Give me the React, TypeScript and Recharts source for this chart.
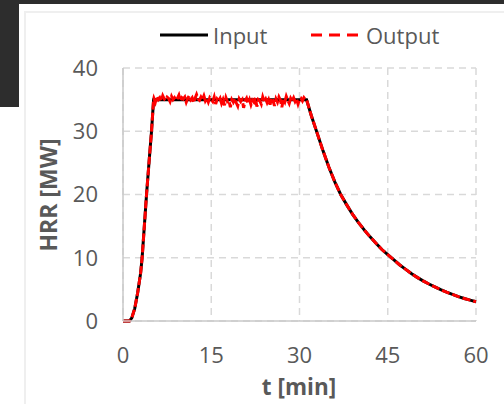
import React from 'react';
import { LineChart, Line, XAxis, YAxis, CartesianGrid } from 'recharts';

// Growth phase (shared by both series)
const riseT = [0, 1.1, 1.5, 2.0, 2.5, 3.0, 3.25, 3.5, 4.0, 4.5, 4.85, 5.2];
const riseHRR = [0, 0, 0.5, 2.0, 4.5, 7.6, 10, 13.3, 20, 26, 30, 35];

// Decay phase (shared by both series)
const decayT = [31.2, 32, 33, 34, 35, 36, 37, 38, 39, 40, 41, 42, 43, 44, 45, 46, 47, 48, 49, 50, 51, 52, 53, 54, 55, 56, 57, 58, 59, 60];
const decayHRR = [35, 32.5, 29.7, 26.9, 24.3, 22.0, 20.0, 18.4, 16.9, 15.6, 14.4, 13.3, 12.3, 11.3, 10.5, 9.7, 8.9, 8.2, 7.5, 6.9, 6.35, 5.85, 5.4, 4.95, 4.55, 4.2, 3.85, 3.55, 3.3, 3.05];

// Noisy plateau of the measured output
const plateauT = [
  5.25, 5.5, 5.75, 6, 6.25, 6.5, 6.75, 7, 7.25, 7.5, 7.75, 8, 8.25, 8.5, 8.75, 9,
  9.25, 9.5, 9.75, 10, 10.25, 10.5, 10.75, 11, 11.25, 11.5, 11.75, 12, 12.25, 12.5, 12.75, 13,
  13.25, 13.5, 13.75, 14, 14.25, 14.5, 14.75, 15, 15.25, 15.5, 15.75, 16, 16.25, 16.5, 16.75, 17,
  17.25, 17.5, 17.75, 18, 18.25, 18.5, 18.75, 19, 19.25, 19.5, 19.75, 20, 20.25, 20.5, 20.75, 21,
  21.25, 21.5, 21.75, 22, 22.25, 22.5, 22.75, 23, 23.25, 23.5, 23.75, 24, 24.25, 24.5, 24.75, 25,
  25.25, 25.5, 25.75, 26, 26.25, 26.5, 26.75, 27, 27.25, 27.5, 27.75, 28, 28.25, 28.5, 28.75, 29,
  29.25, 29.5, 29.75, 30, 30.25, 30.5, 30.75, 31,
];
const plateauOut = [
  35.2, 34.6, 35.5, 35.0, 35.3, 34.8, 35.6, 35.1, 34.9, 35.4, 35.2, 34.7, 35.5, 35.0, 35.3, 34.9,
  35.2, 35.7, 34.8, 35.3, 35.1, 35.4, 34.6, 35.2, 35.6, 35.0, 35.3, 34.5, 35.2, 35.8, 35.1, 34.9,
  35.4, 35.0, 35.6, 34.8, 35.2, 34.6, 35.3, 35.0, 34.7, 35.4, 34.3, 35.1, 34.8, 35.2, 34.4, 35.0,
  34.1, 35.3, 34.7, 34.9, 33.8, 35.0, 34.6, 35.2, 34.5, 34.0, 35.1, 34.7, 35.0, 33.7, 34.8, 35.2,
  34.4, 35.0, 34.2, 34.9, 34.6, 35.3, 33.9, 35.0, 34.8, 34.3, 35.4, 34.7, 35.1, 34.5, 35.0, 34.2,
  35.3, 34.8, 34.0, 35.1, 34.6, 35.4, 34.9, 33.8, 35.0, 34.6, 35.5, 34.9, 34.4, 35.2, 34.8, 35.3,
  34.7, 35.1, 34.3, 35.0, 35.2, 34.8, 35.3, 35.0,
];

const xTicks = [0, 15, 30, 45, 60];
const yTicks = [0, 10, 20, 30, 40];

const toPoints = (ts: number[], vs: number[]) => ts.map((t, i) => ({ t, hrr: vs[i] }));

const inputData = [...toPoints(riseT, riseHRR), ...toPoints(decayT, decayHRR)];
const outputData = [
  ...toPoints(riseT, riseHRR),
  ...toPoints(plateauT, plateauOut),
  ...toPoints(decayT, decayHRR),
];

const FONT = '"Open Sans", sans-serif';
const TEXT = '#595959';

const YTitle = () => (
  <text
    x={48}
    y={195}
    transform="rotate(-90, 48, 195)"
    textAnchor="middle"
    dominantBaseline="central"
    fill={TEXT}
    fontSize={23}
    fontWeight="bold"
    fontFamily={FONT}
  >
    HRR [MW]
  </text>
);

const XTitle = () => (
  <text x={299} y={395} textAnchor="middle" fill={TEXT} fontSize={22.5} fontWeight="bold" fontFamily={FONT}>
    t [min]
  </text>
);

export default function App() {
  return (
    <div style={{ position: 'absolute', left: 0, top: 0, width: 504, height: 404, background: '#fff', overflow: 'hidden', fontFamily: FONT }}>
      {/* dark frame bits */}
      <div style={{ position: 'absolute', left: 0, top: 0, width: 504, height: 4, background: '#2d2d2d' }} />
      <div style={{ position: 'absolute', left: 0, top: 0, width: 19, height: 107, background: '#2d2d2d' }} />
      <div style={{ position: 'absolute', left: 24, top: 11, width: 500, height: 391, border: '2px solid #efefef' }} />

      <div style={{ position: 'absolute', left: 0, top: 0 }}>
        <LineChart width={504} height={404} margin={{ top: 68, right: 28, bottom: 23, left: 63 }}>
          <CartesianGrid stroke="#d9d9d9" strokeWidth={1.5} strokeDasharray="7 5" />
          <XAxis
            dataKey="t"
            type="number"
            domain={[0, 60]}
            ticks={xTicks}
            height={60}
            tickLine={false}
            tickMargin={20}
            axisLine={{ stroke: '#c8c8c8', strokeWidth: 1.5 }}
            tick={{ fill: TEXT, fontSize: 22, fontFamily: FONT }}
            label={<XTitle />}
          />
          <YAxis
            dataKey="hrr"
            type="number"
            domain={[0, 40]}
            ticks={yTicks}
            width={60}
            tickLine={false}
            tickMargin={19}
            axisLine={{ stroke: '#c8c8c8', strokeWidth: 1.5 }}
            tick={{ fill: TEXT, fontSize: 22, fontFamily: FONT }}
            label={<YTitle />}
          />
          <Line data={inputData} dataKey="hrr" type="linear" stroke="#000" strokeWidth={3} dot={false} isAnimationActive={false} />
          <Line data={outputData} dataKey="hrr" type="linear" stroke="#ff0000" strokeWidth={3} strokeDasharray="8 3" dot={false} isAnimationActive={false} />
        </LineChart>
      </div>

      {/* legend */}
      <svg style={{ position: 'absolute', left: 0, top: 0 }} width={504} height={60}>
        <line x1={160} y1={35} x2={208} y2={35} stroke="#000" strokeWidth={3} />
        <text x={213} y={35} dominantBaseline="central" fill={TEXT} fontSize={22} fontFamily={FONT}>Input</text>
        <line x1={311} y1={35} x2={360} y2={35} stroke="#ff0000" strokeWidth={3} strokeDasharray="11 7" />
        <text x={366} y={35} dominantBaseline="central" fill={TEXT} fontSize={22} fontFamily={FONT}>Output</text>
      </svg>
    </div>
  );
}
